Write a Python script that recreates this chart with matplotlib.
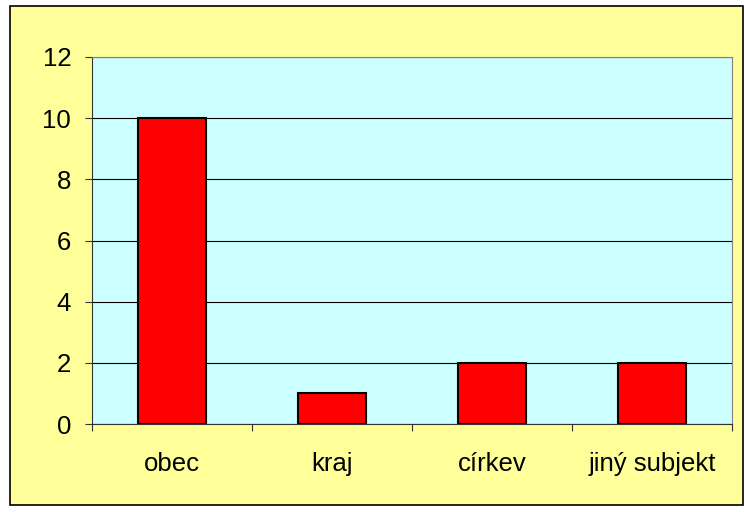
import matplotlib.pyplot as plt
from matplotlib.patches import Rectangle

categories = ['obec', 'kraj', 'církev', 'jiný subjekt']
values = [10, 1, 2, 2]
yticks = [0, 2, 4, 6, 8, 10, 12]

plt.rcParams['font.family'] = ['Liberation Sans', 'DejaVu Sans']

W, H = 744, 512
fig = plt.figure(figsize=(W / 100, H / 100), dpi=100, facecolor='white')

# outer chart area with black border, kept behind the axes
fig.patches.append(Rectangle((10 / W, 1 - 505 / H), 733 / W, 499 / H,
                             transform=fig.transFigure, facecolor='#FFFF99',
                             edgecolor='black', linewidth=1.2, zorder=-1))

ax = fig.add_axes([92 / W, 1 - 424 / H, 640 / W, 367 / H])
ax.set_facecolor('#CCFFFF')

x = range(len(categories))
ax.bar(x, values, width=0.42, color='#FF0000', edgecolor='black', linewidth=1.5, zorder=3)

ax.set_xlim(-0.5, len(categories) - 0.5)
ax.set_ylim(0, 12)
ax.set_yticks(yticks)
ax.yaxis.grid(True, color='black', linewidth=0.8, zorder=1)
ax.set_axisbelow(True)

ax.set_xticks([i - 0.5 for i in range(len(categories) + 1)])
ax.set_xticklabels([])
ax.set_xticks(list(x), minor=True)
ax.set_xticklabels(categories, minor=True)
ax.tick_params(axis='x', which='minor', length=0, pad=20, labelsize=18.5)
ax.tick_params(axis='x', which='major', length=5, direction='out', color='#333333')
ax.tick_params(axis='y', length=5, direction='out', labelsize=18.5, pad=10, color='#333333')

for s in ['top', 'right']:
    ax.spines[s].set_color('#808080')
ax.spines['left'].set_color('#333333')
ax.spines['bottom'].set_color('#333333')

fig.savefig('out.png', dpi=100)
